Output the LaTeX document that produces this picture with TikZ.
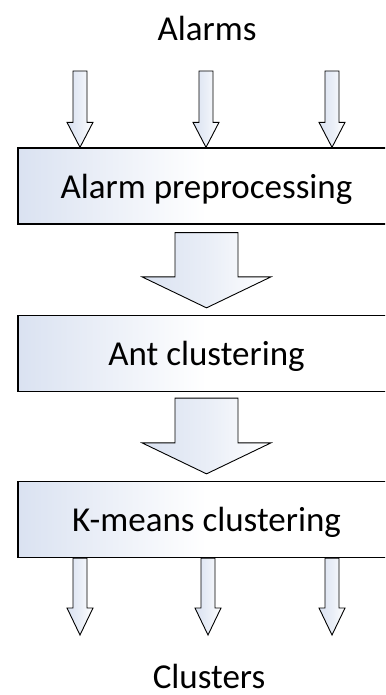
\documentclass[tikz,border=0pt]{standalone}
\usepackage{fontspec}
\setmainfont{Carlito}
\usetikzlibrary{calc}

\definecolor{boxtint}{HTML}{DAE2F1}
\tikzset{
  stage/.style={draw=black, line width=1.3pt, minimum width=377pt, minimum height=76pt,
    inner sep=0pt, text depth=0pt, left color=boxtint, right color=white, middle color=white},
  fat/.style={draw=black, line width=0.9pt, left color=boxtint, right color=white,
    middle color=white!40!boxtint, line join=miter},
  iotext/.style={inner sep=0pt}
}
% block arrow: #1 tail, #2 tip, #3 half shaft, #4 half head, #5 head length
\newcommand{\blockarrow}[5]{%
  \path[fat] ($(#1)+(-#3,0)$) -- ($(#1)+(#3,0)$) -- ($(#2)+(#3,-#5)$) -- ($(#2)+(#4,-#5)$)
    -- (#2) -- ($(#2)+(-#4,-#5)$) -- ($(#2)+(-#3,-#5)$) -- cycle;
}

\begin{document}
\begin{tikzpicture}[x=1pt,y=-1pt,font=\fontsize{35}{42}\selectfont]
  \useasboundingbox (0,0) rectangle (385,695);
  \clip (0,0) rectangle (385,695);

  \node[iotext] (alarms) at (207,28) {Alarms};
  \node[stage] (prep) at (206.5,186) {Alarm preprocessing};
  \node[stage] (ant) at (206.5,353.5) {Ant clustering};
  \node[stage] (kmeans) at (206.5,519.5) {K-means clustering};
  \node[iotext] (clusters) at (209,676) {Clusters};

  % inputs
  \foreach \i/\x in {1/80,2/206,3/332} {
    \coordinate (in\i) at (\x,71);
    \coordinate (inTip\i) at (in\i |- prep.north);
    \blockarrow{in\i}{inTip\i}{7}{13}{25}
  }

  % between the stages
  \coordinate (a1) at ($(prep.south)+(0,8)$);
  \coordinate (a2) at ($(ant.north)+(0,-7)$);
  \blockarrow{a1}{a2}{31.5}{64.5}{31}
  \coordinate (b1) at ($(ant.south)+(0,6)$);
  \coordinate (b2) at ($(kmeans.north)+(0,-7)$);
  \blockarrow{b1}{b2}{31.5}{64.5}{31}

  % outputs
  \foreach \i/\x in {1/80,2/208,3/332} {
    \coordinate (out\i) at (\x,635);
    \coordinate (outTail\i) at (out\i |- kmeans.south);
    \blockarrow{outTail\i}{out\i}{7}{13}{27}
  }
\end{tikzpicture}
\end{document}
